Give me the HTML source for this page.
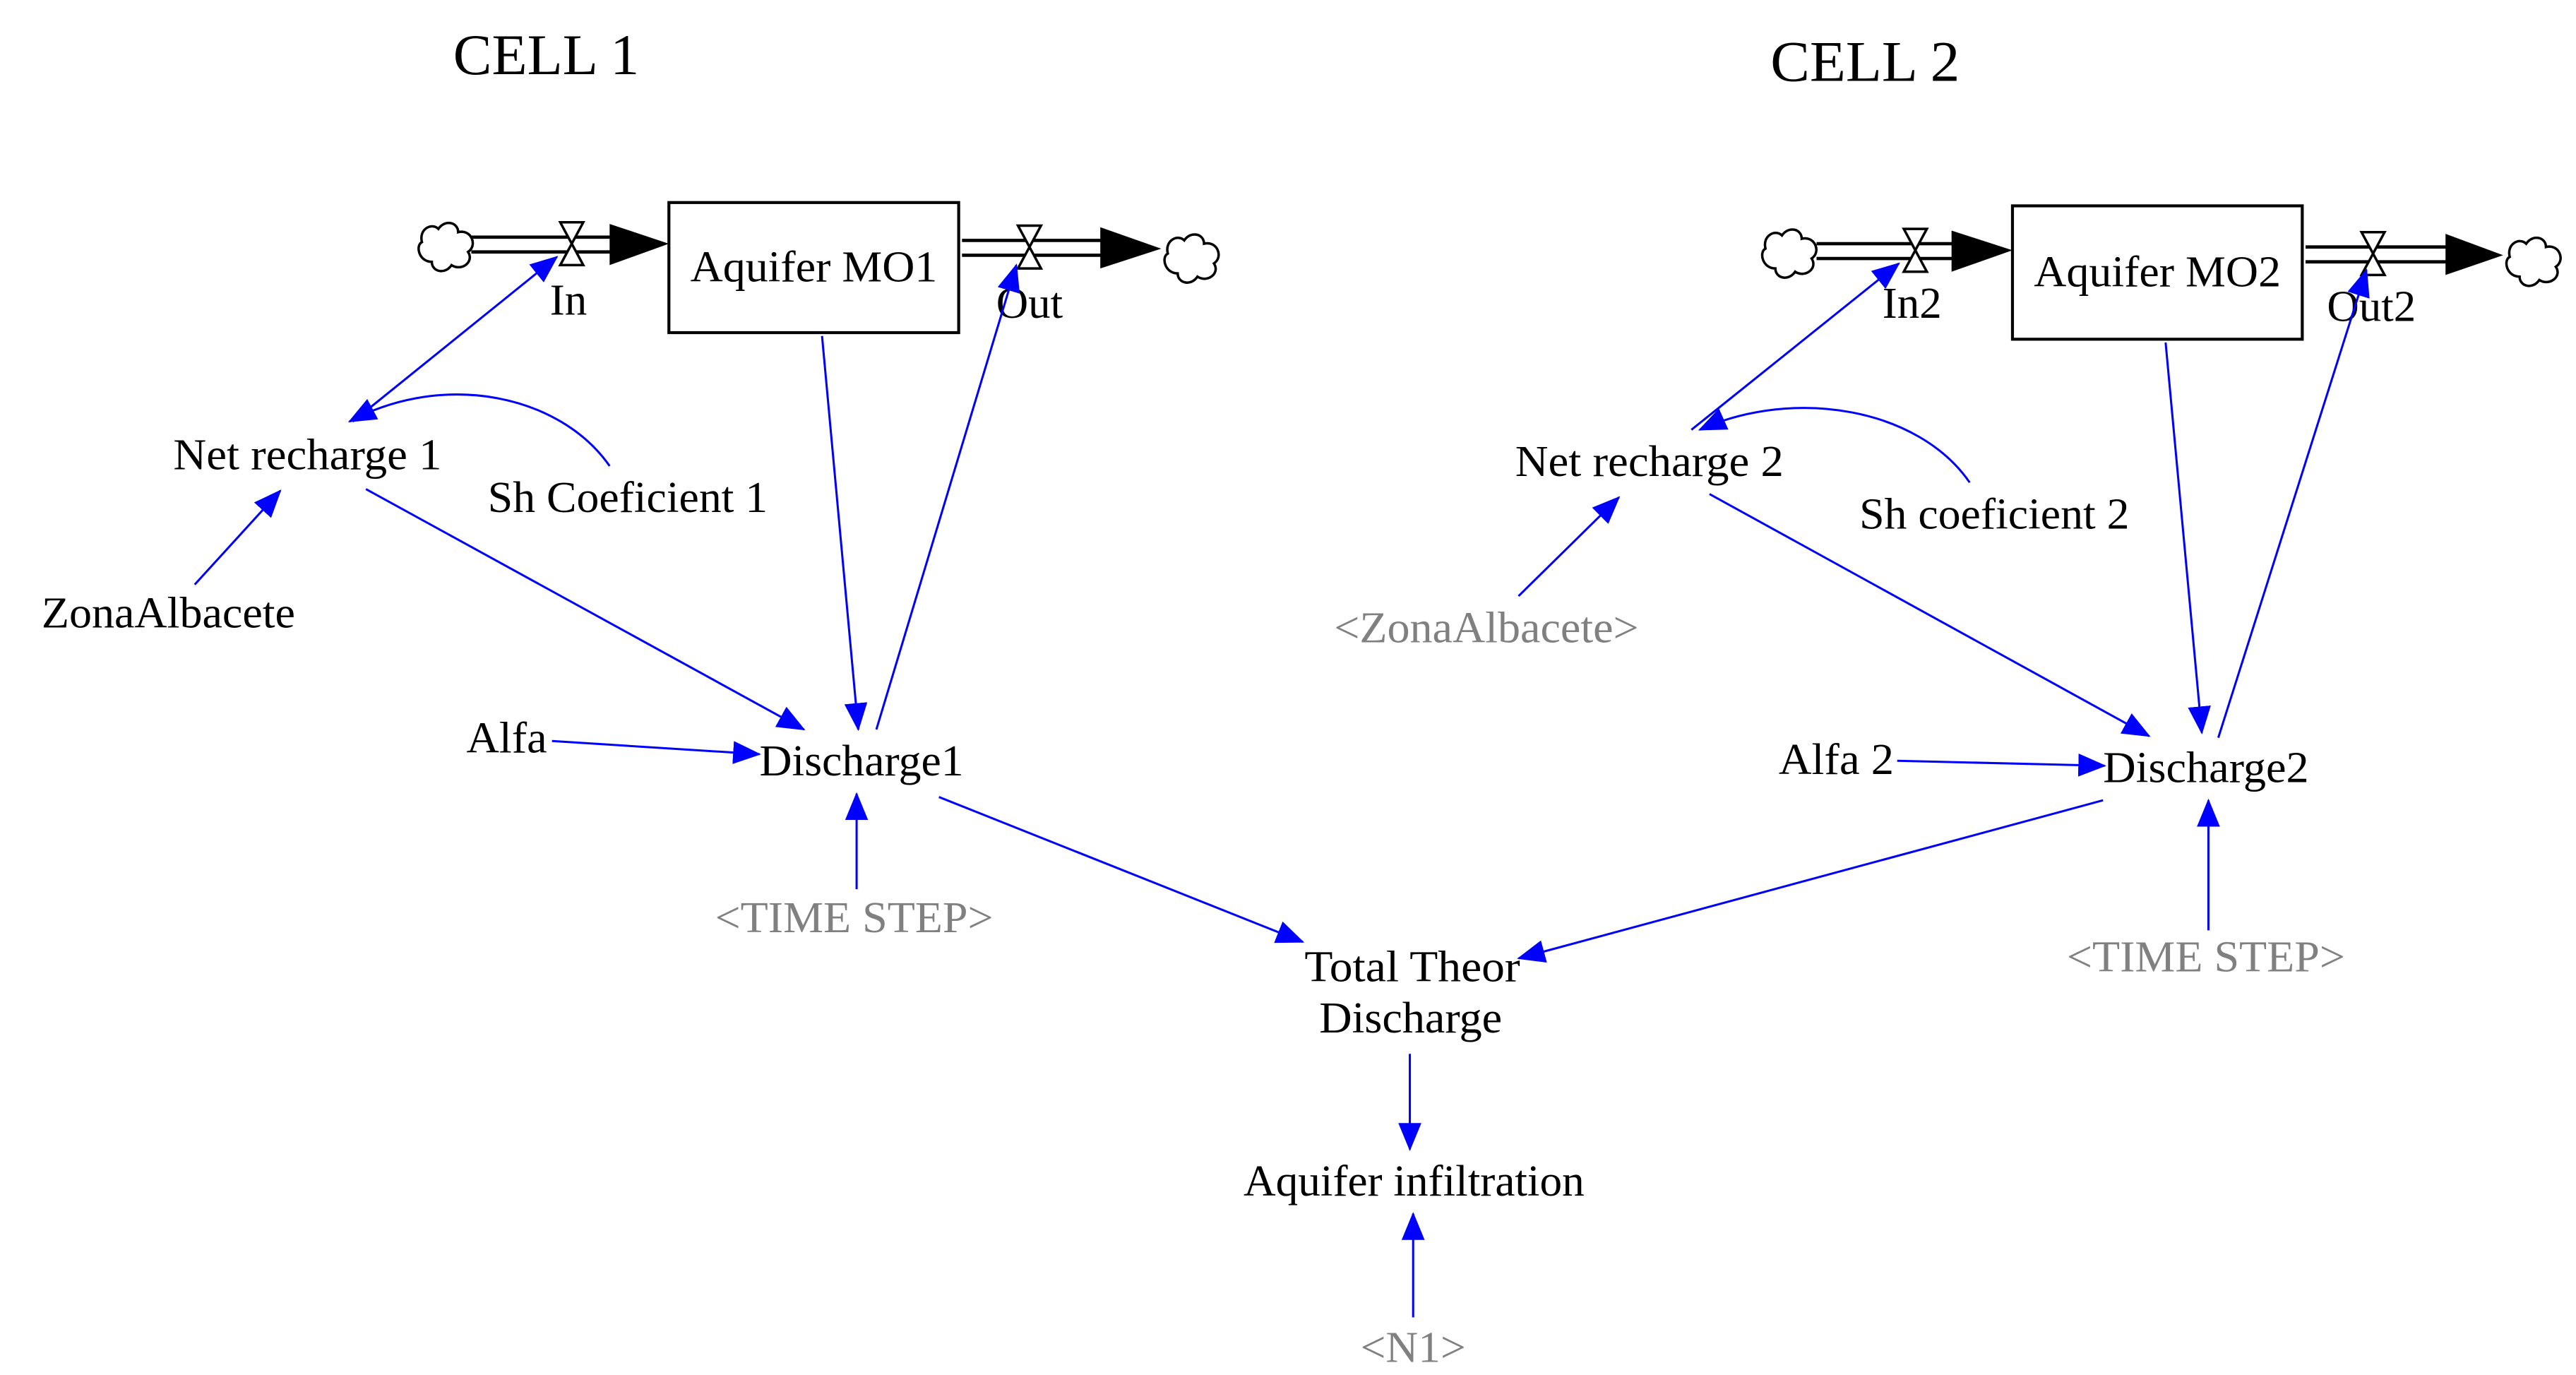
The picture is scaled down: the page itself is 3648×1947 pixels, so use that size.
<!DOCTYPE html>
<html><head><meta charset="utf-8"><style>
html,body{margin:0;padding:0;background:#fff;}
svg{display:block;}
text{font-family:"Liberation Serif",serif;font-size:27px;fill:#000;}
.g{fill:#808080;}
.t{font-size:35px;}
.b{stroke:#0000ff;stroke-width:1.3;fill:none;}
</style></head><body>
<svg width="3648" height="1947" viewBox="0 0 1564 835" xmlns="http://www.w3.org/2000/svg">
<defs>
<marker id="a" markerUnits="userSpaceOnUse" markerWidth="18" markerHeight="14" refX="16" refY="7" orient="auto"><path d="M0,0 L17,7 L0,14 Z" fill="#0000ff"/></marker>
<g id="cloud"><path d="M0,0 c-2,-8 6,-12 10,-8 c4,-6 12,-4 12,2 c8,-2 12,8 6,12 c4,6 -4,12 -10,8 c-4,6 -12,4 -12,-2 c-8,0 -10,-10 -6,-12 z" fill="#fff" stroke="#000" stroke-width="1.5"/></g>
<g id="valve"><path d="M-7,-13 L7,-13 L-7,13 L7,13 Z" fill="#fff" stroke="#000" stroke-width="1.5"/></g>
</defs>
<rect width="1564" height="835" fill="#fff"/>
<text x="275" y="45" class="t" textLength="113" lengthAdjust="spacingAndGlyphs">CELL 1</text>
<text x="1075" y="49" class="t" textLength="115" lengthAdjust="spacingAndGlyphs">CELL 2</text>

<use href="#cloud" x="256" y="147"/>
<line x1="286" y1="144" x2="372" y2="144" stroke="#000" stroke-width="2"/>
<line x1="286" y1="153" x2="372" y2="153" stroke="#000" stroke-width="2"/>
<path d="M370,136 L406,148 L370,161 Z" fill="#000"/>
<use href="#valve" x="347" y="148"/>
<rect x="406" y="123" width="176" height="79" fill="none" stroke="#000" stroke-width="1.8"/>
<text x="419" y="171" textLength="150" lengthAdjust="spacingAndGlyphs">Aquifer MO1</text>
<text x="345" y="191" text-anchor="middle">In</text>
<text x="625" y="193" text-anchor="middle">Out</text>
<line x1="584" y1="146" x2="670" y2="146" stroke="#000" stroke-width="2"/>
<line x1="584" y1="155" x2="670" y2="155" stroke="#000" stroke-width="2"/>
<path d="M668,138 L705,151 L668,163 Z" fill="#000"/>
<use href="#valve" x="625" y="150"/>
<use href="#cloud" x="709" y="154"/>

<text x="105" y="285" textLength="163" lengthAdjust="spacingAndGlyphs">Net recharge 1</text>
<text x="296" y="311" textLength="170" lengthAdjust="spacingAndGlyphs">Sh Coeficient 1</text>
<text x="25" y="381" textLength="154" lengthAdjust="spacingAndGlyphs">ZonaAlbacete</text>
<text x="283" y="457" textLength="49" lengthAdjust="spacingAndGlyphs">Alfa</text>
<text x="461" y="471" textLength="124" lengthAdjust="spacingAndGlyphs">Discharge1</text>
<text x="434" y="566" class="g" textLength="169" lengthAdjust="spacingAndGlyphs">&lt;TIME STEP&gt;</text>

<line class="b" x1="214" y1="256" x2="338" y2="156" marker-end="url(#a)"/>
<path class="b" d="M370,283 C340,240 270,225 212,256" marker-end="url(#a)"/>
<line class="b" x1="118" y1="355" x2="170" y2="298" marker-end="url(#a)"/>
<line class="b" x1="222" y1="297" x2="488" y2="443" marker-end="url(#a)"/>
<line class="b" x1="499" y1="204" x2="521" y2="443" marker-end="url(#a)"/>
<line class="b" x1="532" y1="443" x2="617" y2="161" marker-end="url(#a)"/>
<line class="b" x1="335" y1="450" x2="461" y2="458" marker-end="url(#a)"/>
<line class="b" x1="520" y1="540" x2="520" y2="482" marker-end="url(#a)"/>
<line class="b" x1="570" y1="484" x2="791" y2="572" marker-end="url(#a)"/>

<use href="#cloud" x="1072" y="151"/>
<line x1="1103" y1="148" x2="1187" y2="148" stroke="#000" stroke-width="2"/>
<line x1="1103" y1="157" x2="1187" y2="157" stroke="#000" stroke-width="2"/>
<path d="M1185,140 L1222,152 L1185,165 Z" fill="#000"/>
<use href="#valve" x="1163" y="152"/>
<rect x="1222" y="125" width="176" height="81" fill="none" stroke="#000" stroke-width="1.8"/>
<text x="1235" y="174" textLength="150" lengthAdjust="spacingAndGlyphs">Aquifer MO2</text>
<text x="1161" y="193" text-anchor="middle">In2</text>
<text x="1440" y="195" text-anchor="middle">Out2</text>
<line x1="1400" y1="150" x2="1487" y2="150" stroke="#000" stroke-width="2"/>
<line x1="1400" y1="159" x2="1487" y2="159" stroke="#000" stroke-width="2"/>
<path d="M1485,142 L1520,155 L1485,167 Z" fill="#000"/>
<use href="#valve" x="1441" y="154"/>
<use href="#cloud" x="1524" y="156"/>

<text x="920" y="289" textLength="163" lengthAdjust="spacingAndGlyphs">Net recharge 2</text>
<text x="1129" y="321" textLength="164" lengthAdjust="spacingAndGlyphs">Sh coeficient 2</text>
<text x="810" y="390" class="g" textLength="185" lengthAdjust="spacingAndGlyphs">&lt;ZonaAlbacete&gt;</text>
<text x="1080" y="470" textLength="70" lengthAdjust="spacingAndGlyphs">Alfa 2</text>
<text x="1277" y="475" textLength="125" lengthAdjust="spacingAndGlyphs">Discharge2</text>
<text x="1255" y="590" class="g" textLength="169" lengthAdjust="spacingAndGlyphs">&lt;TIME STEP&gt;</text>

<line class="b" x1="1027" y1="261" x2="1153" y2="160" marker-end="url(#a)"/>
<path class="b" d="M1196,293 C1165,248 1090,235 1032,261" marker-end="url(#a)"/>
<line class="b" x1="922" y1="362" x2="983" y2="302" marker-end="url(#a)"/>
<line class="b" x1="1038" y1="300" x2="1305" y2="447" marker-end="url(#a)"/>
<line class="b" x1="1315" y1="208" x2="1337" y2="445" marker-end="url(#a)"/>
<line class="b" x1="1347" y1="448" x2="1437" y2="164" marker-end="url(#a)"/>
<line class="b" x1="1152" y1="462" x2="1278" y2="465" marker-end="url(#a)"/>
<line class="b" x1="1341" y1="565" x2="1341" y2="486" marker-end="url(#a)"/>
<line class="b" x1="1277" y1="486" x2="922" y2="582" marker-end="url(#a)"/>

<text x="792" y="596" textLength="131" lengthAdjust="spacingAndGlyphs">Total Theor</text>
<text x="801" y="627" textLength="111" lengthAdjust="spacingAndGlyphs">Discharge</text>
<text x="755" y="726" textLength="207" lengthAdjust="spacingAndGlyphs">Aquifer infiltration</text>
<text x="826" y="827" class="g" textLength="64" lengthAdjust="spacingAndGlyphs">&lt;N1&gt;</text>
<line class="b" x1="856" y1="640" x2="856" y2="698" marker-end="url(#a)"/>
<line class="b" x1="858" y1="800" x2="858" y2="737" marker-end="url(#a)"/>
</svg>
</body></html>
